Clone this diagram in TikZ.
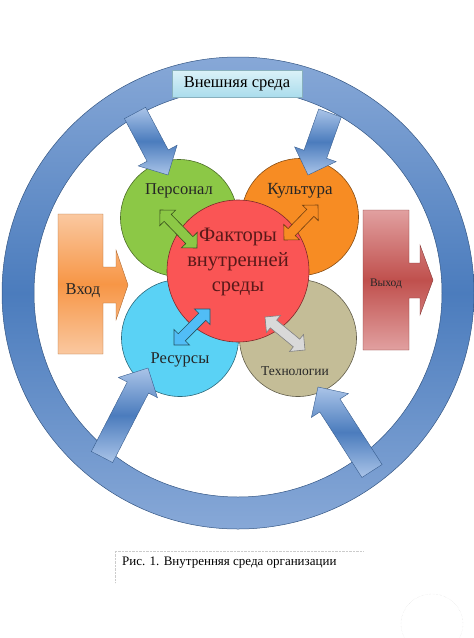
\documentclass[tikz,border=0pt]{standalone}
\usepackage{fontspec}
\setmainfont{Liberation Serif}
\usetikzlibrary{calc,positioning}

\definecolor{ringblue}{RGB}{75,124,189}
\definecolor{ringlight}{RGB}{135,168,215}
\definecolor{arrowlight}{RGB}{170,196,232}
\definecolor{boxtop}{RGB}{218,241,248}
\definecolor{boxbot}{RGB}{170,220,236}
\definecolor{persgreen}{RGB}{140,200,70}
\definecolor{cultorange}{RGB}{247,140,35}
\definecolor{resblue}{RGB}{90,210,245}
\definecolor{techtan}{RGB}{196,189,151}
\definecolor{corered}{RGB}{250,85,85}
\definecolor{coretext}{RGB}{90,25,25}
\definecolor{inlight}{RGB}{250,200,160}
\definecolor{inmid}{RGB}{247,150,70}
\definecolor{outlight}{RGB}{225,160,160}
\definecolor{outmid}{RGB}{192,80,77}

% block arrow: [style]{from}{to}{half shaft}{half head}
\newcommand{\fatarrow}[5][]{%
  \coordinate (hb) at ($(#3)!#5!(#2)$);
  \path[#1] ($(#2)!#4!90:(#3)$) -- ($(hb)!#4!90:(#3)$) -- ($(hb)!#5!90:(#3)$) -- (#3)
    -- ($(hb)!#5!-90:(#3)$) -- ($(hb)!#4!-90:(#3)$) -- ($(#2)!#4!-90:(#3)$) -- cycle;
}
% double block arrow: [style]{from}{to}{half shaft}{half head}
\newcommand{\twinarrow}[5][]{%
  \coordinate (ha) at ($(#2)!#5!(#3)$);
  \coordinate (hb) at ($(#3)!#5!(#2)$);
  \path[#1] (#2) -- ($(ha)!#5!90:(#3)$) -- ($(ha)!#4!90:(#3)$) -- ($(hb)!#4!90:(#3)$)
    -- ($(hb)!#5!90:(#3)$) -- (#3) -- ($(hb)!#5!-90:(#3)$) -- ($(hb)!#4!-90:(#3)$)
    -- ($(ha)!#4!-90:(#3)$) -- ($(ha)!#5!-90:(#3)$) -- cycle;
}

\begin{document}
\begin{tikzpicture}[x=1pt, y=-1pt,
    factor/.style={circle, draw, line width=0.6pt, minimum size=117pt, inner sep=0pt},
    word/.style={inner sep=0pt, text=black!85, font=\fontsize{16.5}{18}\selectfont},
    bigarrow/.style={draw=ringblue!75!black, line width=0.4pt, top color=arrowlight,
        bottom color=arrowlight, middle color=ringblue},
    link/.style={line width=0.6pt}
  ]
  \useasboundingbox (0,0) rectangle (474,638);

  % external environment
  \coordinate (centre) at (238,293);
  \path[draw=ringblue!70!black, line width=0.5pt, even odd rule, top color=ringlight,
      bottom color=ringlight, middle color=ringblue]
    (centre) circle[radius=236pt] (centre) circle[radius=204pt];
  \node [draw=boxbot!80!black, top color=boxtop, bottom color=boxbot, line width=0.3pt,
      minimum width=130pt, minimum height=27pt, inner sep=0pt,
      font=\fontsize{16.5}{18}\selectfont] (outer) at (237,84) {Внешняя среда};

  % input and output
  \path[draw=inmid!70!black, line width=0.4pt, top color=inlight, bottom color=inlight,
      middle color=inmid]
    (58,214) -- (103,214) -- (103,267) -- (116,267) -- (116,250) -- (128,285)
    -- (116,320) -- (116,303) -- (103,303) -- (103,354) -- (58,354) -- cycle;
  \node [word] (input) at (83,291) {Вход};
  \path[draw=outmid!70!black, line width=0.4pt, top color=outlight, bottom color=outlight,
      middle color=outmid]
    (363,210) -- (409,210) -- (409,263) -- (420,263) -- (420,245) -- (433,280)
    -- (420,315) -- (420,298) -- (409,298) -- (409,350) -- (363,350) -- cycle;
  \node [word, font=\fontsize{11.5}{13}\selectfont] (output) at (386,284) {Выход};

  % factors
  \node [factor, fill=persgreen, draw=persgreen!55!black] (circle1) at (179,218) {};
  \node [factor, fill=cultorange, draw=cultorange!55!black] (circle2) at (300,217) {};
  \node [factor, fill=resblue, draw=resblue!50!black] (circle3) at (180,338) {};
  \node [factor, fill=techtan, draw=techtan!50!black] (circle4) at (298,338) {};
  \node [factor, fill=corered, draw=corered!50!black, minimum size=142pt] (circle5) at (238,271) {};

  \node [word] (text1) at ([yshift=27pt]circle1.center) {Персонал};
  \node [word, font=\fontsize{17}{18}\selectfont] (text2) at ([yshift=26pt]circle2.center) {Культура};
  \node [word] (text3) at ([yshift=-22pt]circle3.center) {Ресурсы};
  \node [word, font=\fontsize{13.5}{15}\selectfont] (text4) at ([xshift=-3pt, yshift=-33pt]circle4.center) {Технологии};
  \node [word, align=center, text=coretext, font=\fontsize{20.5}{25}\selectfont] (text5)
    at ([yshift=9pt]circle5.center) {Факторы\\ внутренней\\ среды};

  % links between the factors
  \coordinate (g1) at (160,210); \coordinate (g2) at (197,248);
  \coordinate (o1) at (284,240); \coordinate (o2) at (318,205);
  \coordinate (b1) at (210,309); \coordinate (b2) at (174,345);
  \coordinate (t1) at (265,317); \coordinate (t2) at (305,350);
  \twinarrow[link, fill=persgreen, draw=persgreen!40!black]{g1}{g2}{5pt}{11pt}
  \twinarrow[link, fill=cultorange, draw=cultorange!45!black]{o1}{o2}{5pt}{11pt}
  \twinarrow[link, fill=resblue!90!blue, draw=resblue!40!black]{b1}{b2}{5pt}{11pt}
  \twinarrow[link, fill=black!15, draw=black!50]{t1}{t2}{5pt}{11pt}

  % influence of the environment
  \coordinate (tail1) at (135,113); \coordinate (tip1) at (168,175);
  \coordinate (tail2) at (330,113); \coordinate (tip2) at (308,175);
  \coordinate (tail3) at (102,457); \coordinate (tip3) at (148,368);
  \coordinate (tail4) at (372,471); \coordinate (tip4) at (318,387);
  \fatarrow[bigarrow]{tail1}{tip1}{12pt}{22pt}
  \fatarrow[bigarrow]{tail2}{tip2}{12pt}{22pt}
  \fatarrow[bigarrow]{tail3}{tip3}{12pt}{22pt}
  \fatarrow[bigarrow]{tail4}{tip4}{12pt}{22pt}

  % caption
  \draw [densely dotted, black!20] (363,551) -- (115,551) -- (115,583);
  \node [anchor=west, inner sep=0pt, font=\fontsize{13}{16}\selectfont] (caption)
    at (122,563) {Рис. 1. Внутренняя среда организации};
  \draw [densely dotted, black!12] (432,624) ellipse [x radius=31pt, y radius=30pt];
\end{tikzpicture}
\end{document}
